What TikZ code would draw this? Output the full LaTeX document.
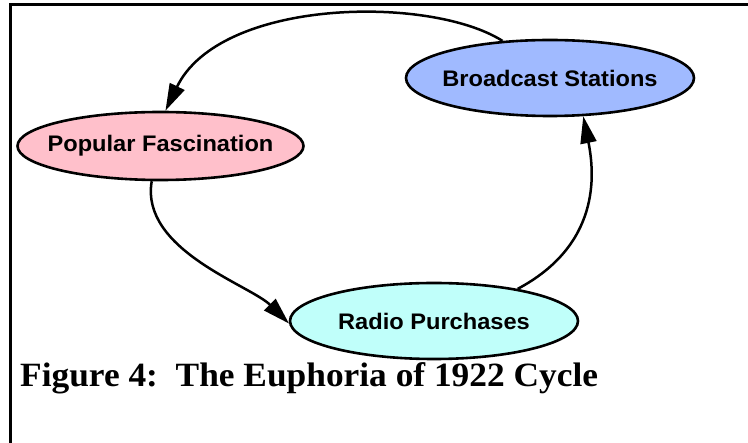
\documentclass[tikz,border=0pt]{standalone}
\usepackage{fontspec}
\setmainfont{Liberation Serif}
\newfontfamily\labelfont{Liberation Sans}
\usetikzlibrary{shapes.geometric,arrows.meta}
\definecolor{pinkfill}{RGB}{255,192,203}
\definecolor{bluefill}{RGB}{160,186,255}
\definecolor{cyanfill}{RGB}{192,255,250}
% zero-width, slightly widened label so the ellipse size is set by minimum width alone
\newcommand{\stagetext}[1]{\makebox[0pt]{\scalebox{1.05}[1]{#1}}}
\tikzset{
  stage/.style={ellipse, draw=black, line width=2.6pt, inner sep=0pt,
    minimum width=288pt, minimum height=74pt,
    font=\labelfont\bfseries\fontsize{22.5}{27}\selectfont},
  flow/.style={draw=black, line width=2.5pt,
    -{Triangle[length=27pt,width=16pt]}},
  frameline/.style={draw=black, line width=3pt}
}
\begin{document}
\begin{tikzpicture}[x=1pt,y=-1pt]
\useasboundingbox (0,0) rectangle (748,443);
% frame: top and left rules
\draw[frameline] (10.5,443) -- (10.5,5) -- (748,5);
% the three stages of the cycle
\node[stage, fill=pinkfill, minimum width=286pt, minimum height=68pt] (pf) at (160.5,146) {\stagetext{Popular Fascination}};
\node[stage, fill=bluefill, minimum height=76pt] (bs) at (550,78) {\stagetext{Broadcast Stations}};
\node[stage, fill=cyanfill, minimum height=76pt] (rp) at (434,321) {\stagetext{Radio Purchases}};
% connectors
\draw[flow] (bs.142.5) .. controls (430,-5) and (220,-2) .. (pf.82.5);
\draw[flow] (pf.256) .. controls (140,250) and (250,285) .. (rp.181);
\draw[flow] (rp.21) .. controls (600,245) and (595,175) .. (bs.311.7);
% caption
\node[anchor=base west, inner sep=0pt, font=\bfseries\fontsize{34}{38}\selectfont] (cap) at (20,387) {\scalebox{1.04}[1]{Figure 4:\ \ The Euphoria of 1922 Cycle}};
\end{tikzpicture}
\end{document}
